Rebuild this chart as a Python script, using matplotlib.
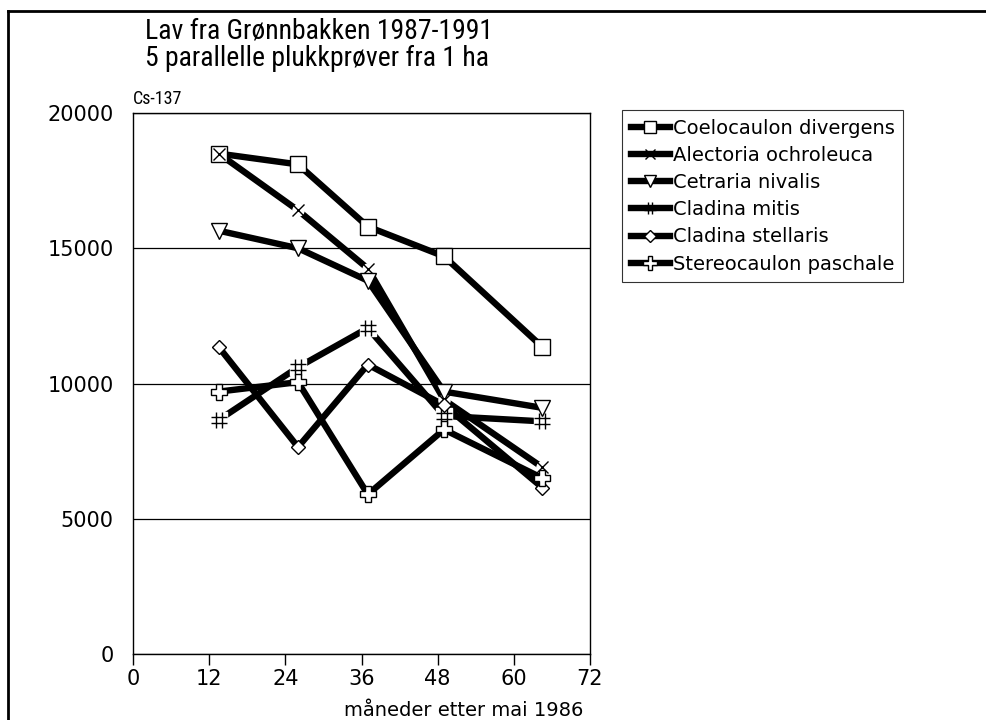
import matplotlib
matplotlib.use("Agg")
import matplotlib.pyplot as plt
from matplotlib.path import Path
from matplotlib.lines import Line2D
from matplotlib import font_manager

months = [13.5, 26, 37, 49, 64.5]
coelocaulon = [18500, 18100, 15800, 14700, 11350]
alectoria = [18500, 16400, 14250, 9400, 6900]
cetraria = [15650, 15000, 13800, 9700, 9100]
cladina_mitis = [8650, 10600, 12050, 8800, 8600]
cladina_stellaris = [11350, 7650, 10700, 9200, 6150]
stereocaulon = [9700, 10050, 5900, 8300, 6500]

labels = ["Coelocaulon divergens", "Alectoria ochroleuca", "Cetraria nivalis",
          "Cladina mitis", "Cladina stellaris", "Stereocaulon paschale"]
series = [coelocaulon, alectoria, cetraria, cladina_mitis, cladina_stellaris, stereocaulon]

xticks = [0, 12, 24, 36, 48, 60, 72]
yticks = [0, 5000, 10000, 15000, 20000]

# condensed font if available
names = {f.name for f in font_manager.fontManager.ttflist}
cond = None
for cand in ['Liberation Sans Narrow', 'DejaVu Sans Condensed', 'Roboto Condensed',
             'Open Sans Condensed', 'Noto Sans Condensed']:
    if cand in names:
        cond = cand
        break
title_family = [cond, 'DejaVu Sans'] if cond else ['DejaVu Sans']

# hash marker
hv = []
hc = []
for a in (-0.35, 0.35):
    hv += [(a, -1), (a, 1)]
    hc += [Path.MOVETO, Path.LINETO]
    hv += [(-1, a), (1, a)]
    hc += [Path.MOVETO, Path.LINETO]
hash_marker = Path(hv, hc)

styles = [
    dict(marker='s', ms=11, mfc='white', bg=None),
    dict(marker='x', ms=8, mfc='none', bg='o'),
    dict(marker='v', ms=11, mfc='white', bg=None),
    dict(marker=hash_marker, ms=11, mfc='none', bg='s'),
    dict(marker='D', ms=7, mfc='white', bg=None),
    dict(marker='P', ms=12, mfc='white', bg=None),
]

fig = plt.figure(figsize=(9.86, 7.2), dpi=100)
ax = fig.add_axes([133/986, 1-654/720, (590-133)/986, (654-113)/720])

lw = 4.6
handles = []
for ys, st, lab in zip(series, styles, labels):
    ax.plot(months, ys, color='black', lw=lw, solid_capstyle='butt', zorder=3)
    if st['bg'] is not None:
        ax.plot(months, ys, ls='none', marker=st['bg'], ms=st['ms'], mfc='white',
                mec='white', zorder=4)
    ax.plot(months, ys, ls='none', marker=st['marker'], ms=st['ms'], mfc=st['mfc'],
            mec='black', mew=1.0, zorder=5)
    h = Line2D([], [], color='black', lw=lw, marker=st['marker'], ms=st['ms'] * 0.85,
               mfc='white', mec='black', mew=1.0)
    handles.append(h)

ax.set_xlim(0, 72)
ax.set_ylim(0, 20000)
ax.set_xticks(xticks)
ax.set_yticks(yticks)
ax.set_xticklabels([str(v) for v in xticks], fontsize=15, family='DejaVu Sans')
ax.set_yticklabels([str(v) for v in yticks], fontsize=15, family='DejaVu Sans')
ax.tick_params(axis='x', direction='out', length=8, width=1, pad=3)
ax.tick_params(axis='y', direction='in', length=0, pad=14)
ax.grid(axis='y', color='black', lw=0.9)
ax.set_axisbelow(True)
for s in ax.spines.values():
    s.set_linewidth(1.0)

ax.set_xlabel("måneder etter mai 1986", fontsize=14, family='DejaVu Sans', labelpad=0)
ax.xaxis.set_label_coords((583-133)/457, -0.086)
ax.xaxis.label.set_horizontalalignment('right')

ax.text(0.0, 1.01, "Cs-137", transform=ax.transAxes, fontsize=13,
        family=title_family, stretch='condensed', va='bottom', ha='left')

fig.text(145/986, 1-18/720, "Lav fra Grønnbakken 1987-1991\n5 parallelle plukkprøver fra 1 ha",
         fontsize=20, family=title_family, stretch='condensed', va='top', ha='left',
         linespacing=1.0)

leg = fig.legend(handles=handles, labels=labels, loc='upper left',
                 bbox_to_anchor=(622/986, 1-110/720), frameon=True, fancybox=False,
                 edgecolor='black', handlelength=2.0, handletextpad=0.15,
                 labelspacing=0.42, borderpad=0.45, borderaxespad=0.0,
                 prop={'family': 'DejaVu Sans', 'size': 14})
leg.get_frame().set_linewidth(0.8)

# outer frame
fig.add_artist(Line2D([8/986, 8/986], [0, 1-11/720], transform=fig.transFigure, color='black', lw=2))
fig.add_artist(Line2D([8/986, 1], [1-11/720, 1-11/720], transform=fig.transFigure, color='black', lw=2))

fig.savefig("out.png", dpi=100)
